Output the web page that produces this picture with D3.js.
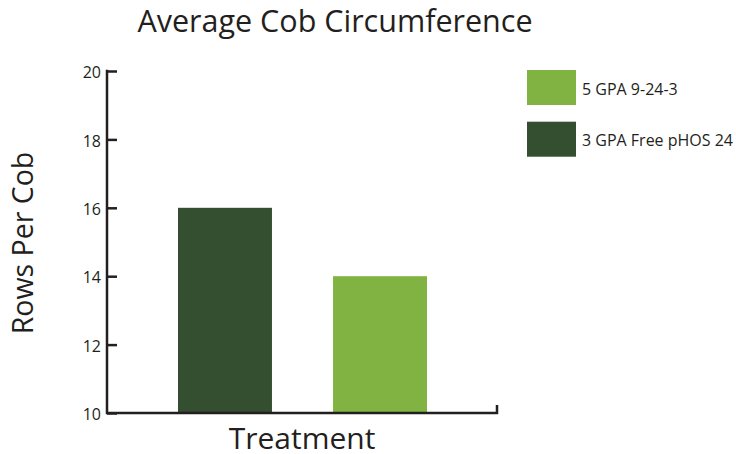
<!DOCTYPE html>
<html><head><meta charset="utf-8">
<script src="https://cdn.jsdelivr.net/npm/d3@7"></script>
<style>html,body{margin:0;padding:0;background:#fff;}svg{display:block;}</style>
</head><body>
<script>
const categories = ["3 GPA Free pHOS 24", "5 GPA 9-24-3"];
const values = [16, 14];
const colors = ["#344e30", "#80b341"];
const legendOrder = ["5 GPA 9-24-3", "3 GPA Free pHOS 24"];
const yTicks = [10, 12, 14, 16, 18, 20];
const title = "Average Cob Circumference";
const yLabel = "Rows Per Cob";
const xLabel = "Treatment";

const W = 736, H = 454;
const font = "'Open Sans', sans-serif";
const ink = "#231f20";
const svg = d3.select("body").append("svg").attr("width", W).attr("height", H);

const y = d3.scaleLinear().domain([10, 20]).range([413, 71]);
const x = d3.scaleBand().domain(categories).range([107, 498]).paddingInner(0.394).paddingOuter(0.458);
const color = d3.scaleOrdinal().domain(categories).range(colors);

// bars
svg.selectAll("rect.bar").data(categories).enter().append("rect")
  .attr("class", "bar")
  .attr("x", d => x(d)).attr("width", x.bandwidth())
  .attr("y", (d, i) => y(values[i])).attr("height", (d, i) => y(10) - y(values[i]))
  .attr("fill", d => color(d));

// y axis
const yAxis = d3.axisRight(y).tickValues(yTicks).tickSize(10).tickFormat(d3.format("d"));
const gy = svg.append("g").attr("transform", "translate(107,0)").call(yAxis);
gy.select(".domain").remove();
gy.selectAll(".tick line").attr("stroke", ink).attr("stroke-width", 2.5);
gy.selectAll(".tick text").attr("x", -6).attr("text-anchor", "end")
  .attr("font-family", font).attr("font-size", 16).attr("fill", ink).attr("dy", "0.42em");
// axis lines
svg.append("path")
  .attr("d", `M107,${y(20)-1.25}V${y(10)}H497V${y(10)-8}`)
  .attr("fill", "none").attr("stroke", ink).attr("stroke-width", 2.5);

// title
svg.append("text").attr("x", 335).attr("y", 32).attr("text-anchor", "middle")
  .attr("font-family", font).attr("font-size", 30.5).attr("fill", ink).text(title);
// x label
svg.append("text").attr("x", 302).attr("y", 449).attr("text-anchor", "middle")
  .attr("font-family", font).attr("font-size", 30).attr("fill", ink).text(xLabel);
// y label
svg.append("text").attr("transform", "translate(33,243) rotate(-90)").attr("text-anchor", "middle")
  .attr("font-family", font).attr("font-size", 28.5).attr("fill", ink).text(yLabel);

// legend
const lg = svg.append("g").selectAll("g").data(legendOrder).enter().append("g")
  .attr("transform", (d, i) => `translate(527,${70 + i * 51.7})`);
lg.append("rect").attr("width", 49).attr("height", 35).attr("fill", d => color(d));
lg.append("text").attr("x", 55).attr("y", 24.5).attr("font-family", font).attr("font-size", 16)
  .attr("fill", ink).text(d => d);
</script>
</body></html>
